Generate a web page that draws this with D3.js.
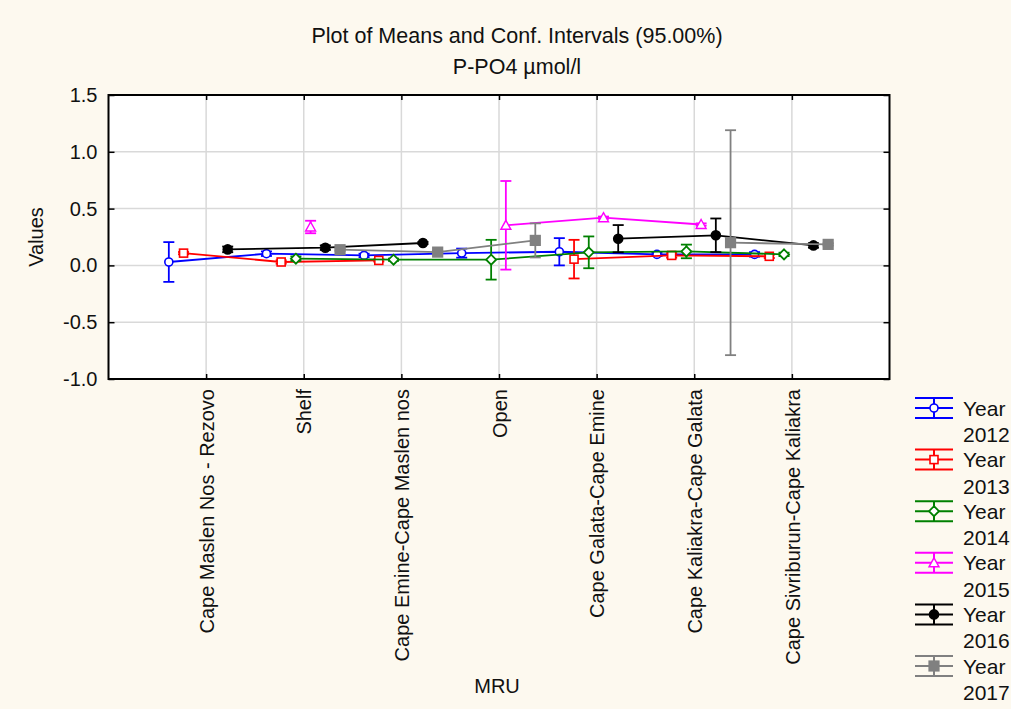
<!DOCTYPE html>
<html>
<head>
<meta charset="utf-8">
<script src="https://cdn.jsdelivr.net/npm/d3@7"></script>
<style>
  html, body { margin: 0; padding: 0; background: #fdf9ef; }
  svg { display: block; font-family: "Liberation Sans", Arial, sans-serif; }
</style>
</head>
<body>
<svg id="chart" width="1011" height="709"></svg>
<script>
// Management reporting units (x categories)
const categories = [
  "Cape Maslen Nos - Rezovo",
  "Shelf",
  "Cape Emine-Cape Maslen nos",
  "Open",
  "Cape Galata-Cape Emine",
  "Cape Kaliakra-Cape Galata",
  "Cape Sivriburun-Cape Kaliakra"
];

const years = ["2012", "2013", "2014", "2015", "2016", "2017"];

// Means of P-PO4 (µmol/l) per unit; null = no samples that year
const mean2012 = [0.03, 0.103, 0.088, 0.108, 0.12, 0.097, 0.097];
const mean2013 = [0.108, 0.03, 0.044, null, 0.055, 0.088, 0.08];
const mean2014 = [null, 0.059, 0.05, 0.05, 0.115, 0.123, 0.097];
const mean2015 = [null, 0.338, null, 0.353, 0.42, 0.36, null];
const mean2016 = [0.141, 0.156, 0.197, null, 0.235, 0.265, 0.176];
const mean2017 = [null, 0.138, 0.117, 0.22, null, 0.2, 0.185];

// Half-widths of the 95% confidence intervals
const ci2012 = [0.175, 0.02, 0.015, 0.04, 0.12, 0.015, 0.02];
const ci2013 = [0.01, 0.015, 0.01, null, 0.17, 0.02, 0.015];
const ci2014 = [null, 0.02, 0.01, 0.175, 0.14, 0.06, 0.015];
const ci2015 = [null, 0.055, null, 0.39, 0.01, 0.01, null];
const ci2016 = [0.025, 0.02, 0.01, null, 0.12, 0.148, 0.02];
const ci2017 = [null, 0.01, 0.01, 0.15, null, 0.99, 0.01];

const yTicks = [-1.0, -0.5, 0.0, 0.5, 1.0, 1.5];

const seriesColors = ["#0000ff", "#ff0000", "#008000", "#ff00ff", "#000000", "#808080"];
const seriesMarkers = ["circle", "square", "diamond", "triangle", "dot", "block"];

const meansList = [mean2012, mean2013, mean2014, mean2015, mean2016, mean2017];
const ciList = [ci2012, ci2013, ci2014, ci2015, ci2016, ci2017];

const series = years.map((yr, j) => ({
  year: yr,
  color: seriesColors[j],
  marker: seriesMarkers[j],
  points: categories.map((c, i) => ({
    cat: c,
    mean: meansList[j][i],
    ci: ciList[j][i]
  }))
}));

const svg = d3.select("#chart");
const plot = { left: 108.5, right: 889.5, top: 95, bottom: 379 };

const x = d3.scalePoint().domain(categories).range([plot.left, plot.right]).padding(1);
const dx = d3.scalePoint().domain(years).range([-37.3, 36.3]);
const y = d3.scaleLinear().domain([-1, 1.5]).range([plot.bottom, plot.top]);

// plot area
svg.append("rect")
  .attr("x", plot.left).attr("y", plot.top)
  .attr("width", plot.right - plot.left).attr("height", plot.bottom - plot.top)
  .attr("fill", "#ffffff");

// grid
const grid = svg.append("g").attr("stroke", "#d9d9d9").attr("stroke-width", 1.5);
grid.selectAll("line.h").data(yTicks.filter(v => v > -1 && v < 1.5)).join("line")
  .attr("x1", plot.left).attr("x2", plot.right)
  .attr("y1", d => y(d)).attr("y2", d => y(d));
grid.selectAll("line.v").data(categories).join("line")
  .attr("y1", plot.top).attr("y2", plot.bottom)
  .attr("x1", d => x(d)).attr("x2", d => x(d));

// axes
const fmt = d => d.toFixed(1);
const yAxis = svg.append("g")
  .attr("transform", `translate(${plot.left},0)`)
  .call(d3.axisLeft(y).tickValues(yTicks).tickFormat(fmt).tickSize(-6).tickPadding(11));
svg.append("g")
  .attr("transform", `translate(${plot.right},0)`)
  .call(d3.axisRight(y).tickValues(yTicks).tickFormat("").tickSize(-6));
const xAxis = svg.append("g")
  .attr("transform", `translate(0,${plot.bottom})`)
  .call(d3.axisBottom(x).tickSize(-5));
svg.append("g")
  .attr("transform", `translate(0,${plot.top})`)
  .call(d3.axisTop(x).tickFormat("").tickSize(-5));

svg.selectAll(".domain").remove();
svg.selectAll(".tick line").attr("stroke", "#000").attr("stroke-width", 1.5);

yAxis.selectAll("text")
  .attr("font-size", 20).attr("fill", "#111")
  .attr("font-family", "Liberation Sans, Arial, sans-serif");

xAxis.selectAll("text")
  .attr("font-size", 20).attr("fill", "#111")
  .attr("font-family", "Liberation Sans, Arial, sans-serif")
  .attr("transform", "rotate(-90)")
  .attr("text-anchor", "end")
  .attr("x", -10).attr("y", 0).attr("dy", "0.36em");

// series: lines, error bars, markers
const line = d3.line()
  .defined(d => d.mean !== null)
  .x(d => d.px)
  .y(d => y(d.mean));

function markerPath(sel, kind, color) {
  const s = 4;
  if (kind === "circle" || kind === "dot") {
    sel.append("circle").attr("r", kind === "dot" ? 4.5 : 4)
      .attr("fill", kind === "dot" ? color : "#fff")
      .attr("stroke", color).attr("stroke-width", 1.6);
  } else if (kind === "square" || kind === "block") {
    const h = kind === "block" ? 4.8 : s;
    sel.append("rect").attr("x", -h).attr("y", -h).attr("width", 2 * h).attr("height", 2 * h)
      .attr("fill", kind === "block" ? color : "#fff")
      .attr("stroke", color).attr("stroke-width", 1.6);
  } else if (kind === "diamond") {
    sel.append("path").attr("d", `M0,${-s - 1}L${s + 1},0L0,${s + 1}L${-s - 1},0Z`)
      .attr("fill", "#fff").attr("stroke", color).attr("stroke-width", 1.8);
  } else if (kind === "triangle") {
    sel.append("path").attr("d", `M0,${-s - 1}L${s + 1},${s}L${-s - 1},${s}Z`)
      .attr("fill", "#fff").attr("stroke", color).attr("stroke-width", 1.4);
  }
}

const sg = svg.append("g").selectAll("g.series").data(series).join("g");

sg.each(function (s) {
  const g = d3.select(this);
  s.points.forEach(p => { p.px = x(p.cat) + dx(s.year); });
  g.append("path")
    .attr("d", line(s.points))
    .attr("fill", "none").attr("stroke", s.color).attr("stroke-width", 1.8);

  const pts = s.points.filter(p => p.mean !== null);
  const eb = g.selectAll("g.eb").data(pts).join("g")
    .attr("stroke", s.color).attr("stroke-width", 1.8);
  eb.append("line")
    .attr("x1", p => p.px).attr("x2", p => p.px)
    .attr("y1", p => y(p.mean + p.ci)).attr("y2", p => y(p.mean - p.ci));
  eb.append("line")
    .attr("x1", p => p.px - 5.5).attr("x2", p => p.px + 5.5)
    .attr("y1", p => y(p.mean + p.ci)).attr("y2", p => y(p.mean + p.ci));
  eb.append("line")
    .attr("x1", p => p.px - 5.5).attr("x2", p => p.px + 5.5)
    .attr("y1", p => y(p.mean - p.ci)).attr("y2", p => y(p.mean - p.ci));

  pts.forEach(p => {
    const m = g.append("g").attr("transform", `translate(${p.px},${y(p.mean)})`);
    markerPath(m, s.marker, s.color);
  });
});

// frame
svg.append("rect")
  .attr("x", plot.left).attr("y", plot.top)
  .attr("width", plot.right - plot.left).attr("height", plot.bottom - plot.top)
  .attr("fill", "none").attr("stroke", "#000").attr("stroke-width", 2);

// titles
const title = svg.append("g").attr("font-size", 21.5).attr("fill", "#111").attr("text-anchor", "middle");
title.append("text").attr("x", 517).attr("y", 43).text("Plot of Means and Conf. Intervals (95.00%)");
title.append("text").attr("x", 517).attr("y", 74).text("P-PO4 µmol/l");

svg.append("text")
  .attr("transform", "translate(42.5,237) rotate(-90)")
  .attr("text-anchor", "middle").attr("font-size", 20).attr("fill", "#111")
  .text("Values");

svg.append("text")
  .attr("x", 497).attr("y", 692.5)
  .attr("text-anchor", "middle").attr("font-size", 20).attr("fill", "#111")
  .text("MRU");

// legend
const leg = svg.append("g").selectAll("g").data(series).join("g")
  .attr("transform", (d, i) => `translate(934,${408 + i * 51.6})`);
leg.each(function (s) {
  const g = d3.select(this);
  const ls = g.append("g").attr("stroke", s.color).attr("stroke-width", 2);
  [-10, 0, 10].forEach(o => ls.append("line").attr("x1", -19).attr("x2", 19).attr("y1", o).attr("y2", o));
  ls.append("line").attr("x1", 0).attr("x2", 0).attr("y1", -10).attr("y2", 10);
  markerPath(g, s.marker, s.color);
  g.append("text").attr("x", 29).attr("y", 7.5).attr("font-size", 21).attr("fill", "#111").text("Year");
  g.append("text").attr("x", 29).attr("y", 34).attr("font-size", 21).attr("fill", "#111").text(s.year);
});
</script>
</body>
</html>
